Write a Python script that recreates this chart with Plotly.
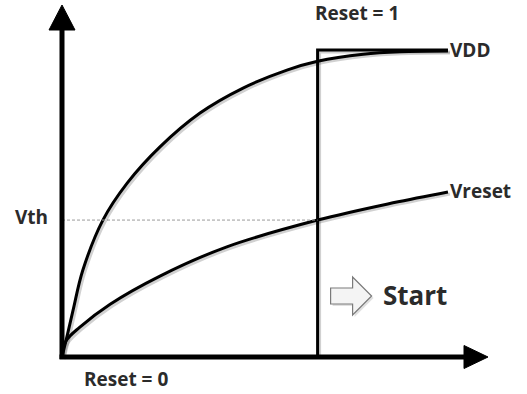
import plotly.graph_objects as go

# ---- data (time in arbitrary units, voltage in arbitrary units)
t_vdd = [0, 0.12, 0.26, 0.49, 0.96, 1.53, 2.30, 3.24, 4.25, 5.28, 6.0, 7.07, 7.93, 9.06]
v_vdd = [0, 0.60, 1.33, 2.47, 3.89, 4.94, 5.97, 6.93, 7.64, 8.15, 8.40, 8.60, 8.67, 8.69]

t_vreset = [0, 0.09, 0.42, 1.13, 2.30, 3.87, 6.0, 7.77, 9.06]
v_vreset = [0, 0.45, 0.85, 1.50, 2.30, 3.13, 3.89, 4.38, 4.69]

v_th = 3.89
t_reset = 6.0
v_reset_high = 8.72
t_end = 9.06
t_axis_max = 10.0
v_axis_max = 10.0

labels = {"vdd": "VDD", "vreset": "Vreset", "vth": "Vth",
          "reset1": "Reset = 1", "reset0": "Reset = 0", "start": "Start"}

# ---- layout helpers (pixels per data unit)
W, H = 527, 394
PX_T, PX_V = 42.6, 35.2
X0_PX, Y0_PX = 62, 357
xr = [-X0_PX / PX_T, (W - X0_PX) / PX_T]
yr = [-(H - Y0_PX) / PX_V, Y0_PX / PX_V]

def dt(px):
    return px / PX_T

def dv(px):
    return px / PX_V

INK = "#000000"
TXT = "#2b2b2b"
FONT = "Open Sans"
SHADOW = "rgba(0,0,0,0.18)"

fig = go.Figure()

# soft drop shadows (same data, on an overlay axis pair shifted by 2px)
for xs, ys, shp in [(t_vdd, v_vdd, "spline"), (t_vreset, v_vreset, "spline"),
                    ([t_reset, t_reset, t_end], [0, v_reset_high, v_reset_high], "linear")]:
    fig.add_trace(go.Scatter(x=xs, y=ys, mode="lines", xaxis="x2", yaxis="y2",
                             line=dict(color=SHADOW, width=3, shape=shp), hoverinfo="skip"))

# curves
fig.add_trace(go.Scatter(x=t_vdd, y=v_vdd, mode="lines", line=dict(color=INK, width=3, shape="spline"),
                         hoverinfo="skip"))
fig.add_trace(go.Scatter(x=t_vreset, y=v_vreset, mode="lines", line=dict(color=INK, width=3, shape="spline"),
                         hoverinfo="skip"))
# reset step
fig.add_trace(go.Scatter(x=[t_reset, t_reset, t_end], y=[0, v_reset_high, v_reset_high], mode="lines",
                         line=dict(color=INK, width=3), hoverinfo="skip"))
# threshold dashed line
fig.add_trace(go.Scatter(x=[0, t_reset], y=[v_th, v_th], mode="lines",
                         line=dict(color="#9a9a9a", width=1, dash="3px,2px"), hoverinfo="skip"))

shapes = []
# axes lines
shapes.append(dict(type="line", xref="x", yref="y", x0=0, y0=-dv(2), x1=0, y1=v_axis_max - dv(20),
                   line=dict(color=INK, width=5)))
shapes.append(dict(type="line", xref="x", yref="y", x0=-dt(2.5), y0=0, x1=t_axis_max - dt(20), y1=0,
                   line=dict(color=INK, width=5)))
# arrow heads
shapes.append(dict(type="path", xref="x", yref="y",
                   path=f"M {-dt(13)} {v_axis_max - dv(25)} L 0 {v_axis_max} L {dt(13)} {v_axis_max - dv(25)} Z",
                   fillcolor=INK, line=dict(color=INK, width=1)))
shapes.append(dict(type="path", xref="x", yref="y",
                   path=f"M {t_axis_max - dt(24)} {dv(11.5)} L {t_axis_max} 0 L {t_axis_max - dt(24)} {-dv(11.5)} Z",
                   fillcolor=INK, line=dict(color=INK, width=1)))

# hollow "start" arrow (anchored relative to the Start label)
ax0 = t_reset + dt(13)
ay0 = dv(61)
def arrow_path(x, y):
    return (f"M {x} {y + dv(8)} L {x + dt(22)} {y + dv(8)} L {x + dt(22)} {y + dv(19)} "
            f"L {x + dt(41)} {y} L {x + dt(22)} {y - dv(19)} L {x + dt(22)} {y - dv(8)} "
            f"L {x} {y - dv(8)} Z")
shapes.append(dict(type="path", xref="x", yref="y", path=arrow_path(ax0 + dt(2), ay0 - dv(2)),
                   fillcolor="rgba(0,0,0,0.12)", line=dict(width=0)))
shapes.append(dict(type="path", xref="x", yref="y", path=arrow_path(ax0, ay0),
                   fillcolor="#f4f4f4", line=dict(color="#7a7a7a", width=1.2)))

ann = []
def label(text, x, y, xanchor, size=19):
    ann.append(dict(text=text, x=x, y=y, xref="x", yref="y", xanchor=xanchor, yanchor="middle",
                    showarrow=False, borderpad=0,
                    font=dict(family=FONT, size=size, color=TXT, weight=700)))

label(labels["reset1"], t_reset + dt(39), v_axis_max - dv(8), "center")
label(labels["vdd"], t_end + dt(1), v_vdd[-1] + dv(1), "left")
label(labels["vreset"], t_end + dt(1), v_vreset[-1] + dv(1), "left")
label(labels["vth"], -dt(13), v_th + dv(3), "right")
label(labels["reset0"], dt(64), -dv(22), "center")
label(labels["start"], ax0 + dt(51), ay0 + dv(1), "left", size=26)

fig.update_layout(
    width=W, height=H, margin=dict(l=0, r=0, t=0, b=0),
    paper_bgcolor="white", plot_bgcolor="white", showlegend=False,
    xaxis=dict(range=xr, visible=False, fixedrange=True),
    yaxis=dict(range=yr, visible=False, fixedrange=True),
    xaxis2=dict(range=[xr[0] - dt(2), xr[1] - dt(2)], visible=False, fixedrange=True,
                overlaying="x", anchor="y2"),
    yaxis2=dict(range=[yr[0] + dv(2), yr[1] + dv(2)], visible=False, fixedrange=True,
                overlaying="y", anchor="x2"),
    shapes=shapes, annotations=ann,
)

fig.write_html("out.html", config={"displayModeBar": False},
               post_script="document.body.style.margin='0';document.body.style.overflow='hidden';")
